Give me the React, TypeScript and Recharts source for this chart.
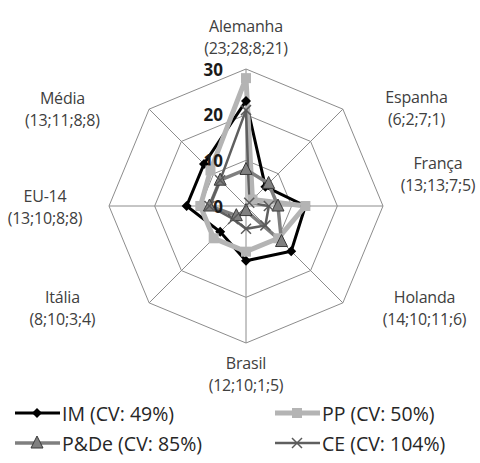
import * as React from "react"
import { Legend, PolarAngleAxis, PolarGrid, PolarRadiusAxis, Radar, RadarChart } from "recharts"

const categories = ["Alemanha", "Espanha", "França", "Holanda", "Brasil", "Itália", "EU-14", "Média"]
const imValues = [23, 6, 13, 14, 12, 8, 13, 13]
const ppValues = [28, 2, 13, 10, 10, 10, 10, 11]
const pdeValues = [8, 7, 7, 11, 1, 3, 8, 8]
const ceValues = [21, 1, 5, 6, 5, 4, 8, 8]
const radiusTicks = [0, 10, 20, 30]
const seriesNames = ["IM (CV: 49%)", "PP (CV: 50%)", "P&De (CV: 85%)", "CE (CV: 104%)"]

const data = categories.map((name, i) => ({
  name,
  im: imValues[i],
  pp: ppValues[i],
  pde: pdeValues[i],
  ce: ceValues[i],
}))

const FONT = "'Open Sans', sans-serif"

// label offsets from the tick anchor Recharts hands us (dx, dy of first line)
const labelOffsets: [number, number][] = [
  [0, -35],
  [68, -6],
  [47, -43],
  [76, -12],
  [0, 12],
  [-81, -12],
  [-56, -10],
  [-81, -5],
]

const AngleTick = (props: any) => {
  const { x, y, payload, index } = props
  const i = index ?? payload.index
  const [dx, dy] = labelOffsets[i] || [0, 0]
  const sub = `(${imValues[i]};${ppValues[i]};${pdeValues[i]};${ceValues[i]})`
  return (
    <g>
      <text x={x + dx} y={y + dy} textAnchor="middle" dominantBaseline="central" fontSize={16} letterSpacing={-0.2} fill="#404040" fontFamily={FONT}>
        {payload.value}
      </text>
      <text x={x + dx} y={y + dy + 22} textAnchor="middle" dominantBaseline="central" fontSize={16} letterSpacing={-0.2} fill="#404040" fontFamily={FONT}>
        {sub}
      </text>
    </g>
  )
}

const RadiusTick = (props: any) => {
  const { x, y, payload } = props
  return (
    <text x={x - 23} y={y} textAnchor="end" dominantBaseline="central" fontSize={17} fontWeight="bold" fill="#1a1a1a" fontFamily={FONT}>
      {payload.value}
    </text>
  )
}

const Diamond = ({ cx, cy, size = 5 }: any) => (
  <polygon points={`${cx},${cy - size} ${cx + size},${cy} ${cx},${cy + size} ${cx - size},${cy}`} fill="#000" />
)
const Square = ({ cx, cy }: any) => <rect x={cx - 5} y={cy - 5} width={10} height={10} fill="#b4b4b4" />
const Triangle = ({ cx, cy }: any) => (
  <polygon points={`${cx},${cy - 7} ${cx + 6},${cy + 5} ${cx - 6},${cy + 5}`} fill="#808080" stroke="#3a3a3a" strokeWidth={1} />
)
const Cross = ({ cx, cy }: any) => (
  <g stroke="#5a5a5a" strokeWidth={1.5}>
    <line x1={cx - 5} y1={cy - 5} x2={cx + 5} y2={cy + 5} />
    <line x1={cx - 5} y1={cy + 5} x2={cx + 5} y2={cy - 5} />
  </g>
)

const markers = [Diamond, Square, Triangle, Cross]
const colors = ["#000000", "#b4b4b4", "#7f7f7f", "#5f5f5f"]
const widths = [3, 5, 3.5, 2.5]

const dotFor = (k: number) => (p: any) => {
  const M = markers[k]
  return <M key={`d${k}-${p.index}`} cx={p.cx} cy={p.cy} />
}

const LegendContent = () => (
  <svg width={480} height={60}>
    {seriesNames.map((name, i) => {
      const col = i % 2
      const row = Math.floor(i / 2)
      const x0 = col === 0 ? 15 : 275
      const y0 = row === 0 ? 13 : 43
      const M = markers[i]
      return (
        <g key={`leg-${i}`}>
          <line x1={x0} y1={y0} x2={x0 + 45} y2={y0} stroke={colors[i]} strokeWidth={widths[i]} />
          <M cx={x0 + 22} cy={y0} />
          <text x={x0 + 47} y={y0} dominantBaseline="central" fontSize={19.5} fill="#262626" fontFamily={FONT}>
            {name}
          </text>
        </g>
      )
    })}
  </svg>
)

export default function App() {
  return (
    <div style={{ position: "absolute", left: 0, top: 0, width: 480, height: 463, background: "#fff" }}>
      <RadarChart width={480} height={463} data={data} cx={246} cy={206} outerRadius={137} startAngle={90} endAngle={-270}>
        <PolarGrid gridType="polygon" stroke="#8c8c8c" strokeWidth={1} />
        <PolarAngleAxis dataKey="name" tick={<AngleTick />} tickLine={false} axisLine={false} />
        <PolarRadiusAxis angle={90} domain={[0, 30]} ticks={radiusTicks} tick={<RadiusTick />} axisLine={false} tickLine={false} />
        <Radar name={seriesNames[0]} dataKey="im" stroke={colors[0]} strokeWidth={widths[0]} fill="none" fillOpacity={0} dot={dotFor(0)} isAnimationActive={false} />
        <Radar name={seriesNames[1]} dataKey="pp" stroke={colors[1]} strokeWidth={widths[1]} fill="none" fillOpacity={0} dot={dotFor(1)} isAnimationActive={false} />
        <Radar name={seriesNames[2]} dataKey="pde" stroke={colors[2]} strokeWidth={widths[2]} fill="none" fillOpacity={0} dot={dotFor(2)} isAnimationActive={false} />
        <Radar name={seriesNames[3]} dataKey="ce" stroke={colors[3]} strokeWidth={widths[3]} fill="none" fillOpacity={0} dot={dotFor(3)} isAnimationActive={false} />
        <Legend content={<LegendContent />} verticalAlign="top" wrapperStyle={{ position: "absolute", top: 400, left: 0, width: 480, height: 60 }} />
      </RadarChart>
    </div>
  )
}
